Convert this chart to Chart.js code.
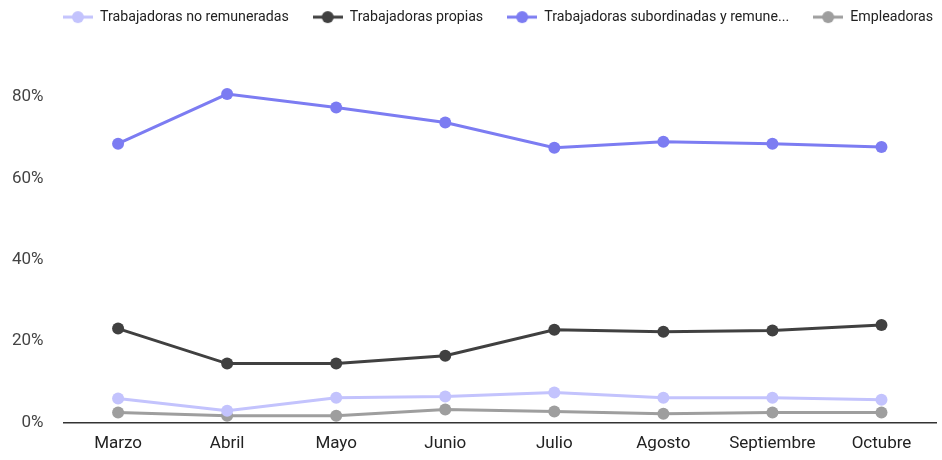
<!DOCTYPE html>
<html>
<head>
<meta charset="utf-8">
<script src="https://cdn.jsdelivr.net/npm/chart.js@4"></script>
<style>
	html, body { margin: 0; padding: 0; background: #fff; }
	#wrap { width: 942px; height: 460px; }
</style>
</head>
<body>
<div id="wrap"><canvas id="chart"></canvas></div>
<script>
const months = ["Marzo", "Abril", "Mayo", "Junio", "Julio", "Agosto", "Septiembre", "Octubre"];
const noRemuneradas = [5.9, 2.9, 6.1, 6.4, 7.4, 6.1, 6.1, 5.6];
const propias = [23.1, 14.5, 14.5, 16.4, 22.8, 22.3, 22.6, 24.0];
const subordinadas = [68.5, 80.7, 77.4, 73.7, 67.5, 69.0, 68.5, 67.7];
const empleadoras = [2.5, 1.7, 1.7, 3.2, 2.7, 2.2, 2.5, 2.5];
const yTicks = [0, 20, 40, 60, 80];

// small line+dot marker for the legend
function marker(color) {
	const c = document.createElement("canvas");
	c.width = 30;
	c.height = 14;
	const g = c.getContext("2d");
	g.strokeStyle = color;
	g.lineWidth = 3;
	g.beginPath();
	g.moveTo(0, 7);
	g.lineTo(30, 7);
	g.stroke();
	g.fillStyle = color;
	g.beginPath();
	g.arc(15, 7, 6, 0, Math.PI * 2);
	g.fill();
	return c;
}

function series(label, data, color) {
	return {
		label: label,
		data: data,
		borderColor: color,
		backgroundColor: color,
		borderWidth: 3,
		pointRadius: 6,
		pointHoverRadius: 6,
		pointBorderWidth: 0,
		tension: 0,
		legendMarker: marker(color)
	};
}

// nudge the legend box (it sits a bit right of centre and high in the original)
const legendShift = {
	id: "legendShift",
	afterUpdate(chart) {
		const lg = chart.legend;
		lg.left += 32;
		lg.right += 32;
		lg.top -= 22;
		lg.bottom -= 22;
	}
};

const ctx = document.getElementById("chart").getContext("2d");
new Chart(ctx, {
	type: "line",
	data: {
		labels: months,
		datasets: [
			series("Trabajadoras no remuneradas", noRemuneradas, "#c3c3fd"),
			series("Trabajadoras propias", propias, "#404040"),
			series("Trabajadoras subordinadas y remune...", subordinadas, "#7c7cf2"),
			series("Empleadoras", empleadoras, "#9e9e9e")
		]
	},
	plugins: [legendShift],
	options: {
		responsive: true,
		maintainAspectRatio: false,
		animation: false,
		layout: { padding: { left: -8, right: 2, top: 8, bottom: -5 } },
		scales: {
			x: {
				offset: true,
				grid: { display: false, drawTicks: false },
				border: { display: true, color: "#333", width: 1.5 },
				ticks: { color: "#222", font: { family: "Roboto", size: 17 }, padding: 11 },
				afterFit: scale => {
					scale.paddingRight = 0;
				}
			},
			y: {
				min: 0,
				max: 90,
				grid: { display: false, drawTicks: false },
				border: { display: false },
				afterBuildTicks: axis => {
					axis.ticks = yTicks.map(v => ({ value: v }));
				},
				ticks: {
					color: "#444",
					padding: 20,
					font: { family: "Roboto", size: 17 },
					callback: v => v + "%"
				}
			}
		},
		plugins: {
			tooltip: { enabled: false },
			legend: {
				position: "top",
				labels: {
					usePointStyle: true,
					pointStyleWidth: 30,
					padding: 24,
					color: "#222",
					font: { family: "Roboto", size: 14.2 },
					generateLabels: chart => {
						return chart.data.datasets.map((ds, i) => ({
							text: ds.label,
							datasetIndex: i,
							pointStyle: ds.legendMarker,
							fillStyle: ds.borderColor,
							strokeStyle: ds.borderColor,
							lineWidth: 0,
							fontColor: "#222",
							hidden: false
						}));
					}
				}
			}
		}
	}
});
</script>
</body>
</html>
